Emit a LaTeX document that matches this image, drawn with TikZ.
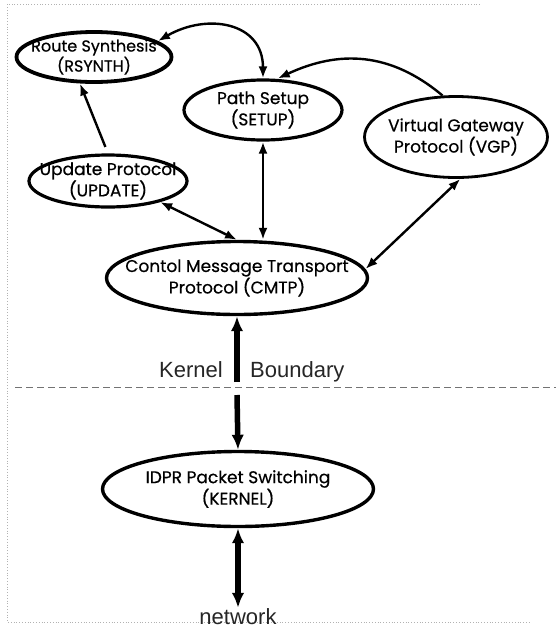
\documentclass[tikz,border=0pt]{standalone}
\usepackage{fontspec}
\newfontfamily\ellfont[FakeBold=0.5]{Poppins}
\newfontfamily\labfont{Liberation Sans}
\usetikzlibrary{shapes.geometric,arrows.meta}
\tikzset{
  proc/.style={ellipse, draw=black, line width=3.2pt, inner xsep=-40pt, inner ysep=-12pt, align=center,
    font=\ellfont\fontsize{17}{20}\selectfont},
  thin/.style={line width=2.4pt, black},
  thinarr/.style={thin, -{Latex[length=12pt,width=9pt]}},
  thinboth/.style={thin, {Latex[length=12pt,width=9pt]}-{Latex[length=12pt,width=9pt]}},
  thickarr/.style={line width=5.5pt, black, -{Latex[length=15pt,width=12.5pt]}},
  thickboth/.style={line width=5.5pt, black, {Latex[length=15pt,width=12.5pt]}-{Latex[length=15pt,width=12.5pt]}},
  bigtext/.style={inner sep=0pt, font=\labfont\fontsize{22}{24}\selectfont, text=black!85},
  frame/.style={gray!60, dotted, line width=0.8pt}
}
\begin{document}
\begin{tikzpicture}[x=1pt,y=-1pt]
\useasboundingbox (0,0) rectangle (556,633);
% frame
\coordinate (f1) at (480,4);
\coordinate (f2) at (7,4);
\coordinate (f3) at (7,622);
\coordinate (f4) at (530,622);
\draw[frame] (f1) -- (f2) -- (f3) -- (f4);
% nodes
\node[proc, line width=3.8pt, minimum width=155pt, minimum height=50pt, font=\ellfont\fontsize{16}{19}\selectfont] (rs) at (94,57) {Route Synthesis\\(RSYNTH)};
\node[proc, minimum width=158pt, minimum height=60pt] (su) at (263,110) {Path Setup\\(SETUP)};
\node[proc, line width=2.8pt, minimum width=183pt, minimum height=81pt] (vgp) at (456,137) {Virtual Gateway\\Protocol (VGP)};
\node[proc, minimum width=158pt, minimum height=52pt] (up) at (108,181) {Update Protocol\\(UPDATE)};
\node[proc, line width=3.4pt, minimum width=261pt, minimum height=73pt] (cm) at (237,278) {Contol Message Transport\\Protocol (CMTP)};
\node[proc, line width=3.4pt, minimum width=271pt, minimum height=75pt] (kn) at (238,489) {IDPR Packet Switching\\(KERNEL)};
% labels
\node[bigtext, anchor=base east] (kl) at (223,377) {Kernel};
\node[bigtext, anchor=base west] (bl) at (250,377) {Boundary};
\node[bigtext, anchor=base] (nw) at (238,624) {network};
% kernel boundary line
\coordinate (d1) at (15,387);
\coordinate (d2) at (556,387);
\draw[black!55, dash pattern=on 7pt off 4pt, line width=0.8pt] (d1) -- (d2);
% connectors
\draw[thinboth] (rs.14) to[out=30, in=90, looseness=1.3] (su.north);
\draw[thinarr, shorten >=1pt] (vgp.108) to[out=140, in=25, looseness=1.05] (su.66);
\draw[thinarr, shorten <=7pt] (up.north) -- (rs.-118);
\draw[thinboth] (su.south) -- (cm.north -| su.south);
\draw[thinboth] (up.-22) -- (cm.north);
\draw[thinboth] (vgp.-84) -- (cm.4);
% kernel arrows
\coordinate (k1) at (237,382);
\coordinate (k2) at (237,395);
\draw[thickarr] (k1) -- (cm.south);
\draw[thickarr] (k2) -- (kn.north);
\draw[thickboth] (kn.south) -- (nw.north);
\end{tikzpicture}
\end{document}
